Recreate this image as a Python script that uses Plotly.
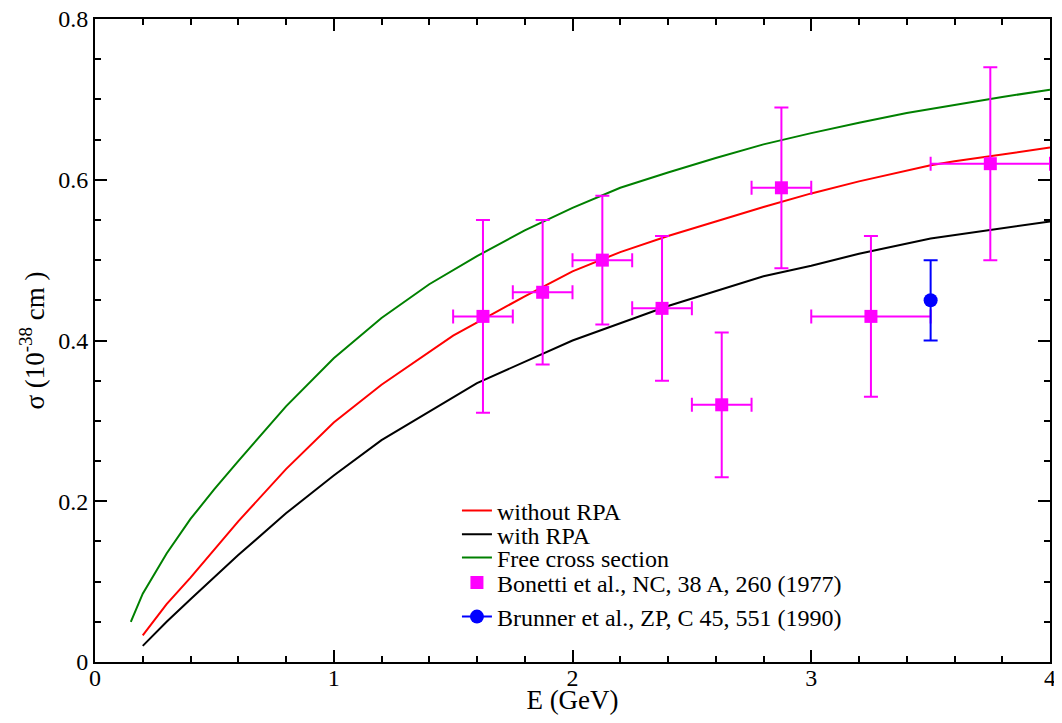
import plotly.graph_objects as go

# theory curves (E in GeV, sigma in 1e-38 cm^2)
e_free = [0.15, 0.2, 0.3, 0.4, 0.5, 0.6, 0.8, 1.0, 1.2, 1.4, 1.6, 1.8, 2.0,
          2.2, 2.4, 2.6, 2.8, 3.0, 3.2, 3.4, 3.6, 3.8, 4.0]
sigma_free = [0.05, 0.085, 0.135, 0.178, 0.215, 0.25, 0.318, 0.378, 0.428, 0.47,
              0.505, 0.537, 0.565, 0.59, 0.609, 0.627, 0.644, 0.658, 0.671, 0.683,
              0.693, 0.703, 0.712]

e_norpa = [0.2, 0.3, 0.4, 0.6, 0.8, 1.0, 1.2, 1.5, 1.8, 2.0, 2.2, 2.4, 2.6, 2.8,
           3.0, 3.2, 3.5, 3.6, 4.0]
sigma_norpa = [0.033, 0.072, 0.105, 0.175, 0.24, 0.298, 0.345, 0.406, 0.455, 0.486,
               0.51, 0.53, 0.548, 0.566, 0.583, 0.598, 0.618, 0.623, 0.64]

e_rpa = [0.2, 0.3, 0.4, 0.6, 0.8, 1.0, 1.2, 1.6, 2.0, 2.4, 2.8, 3.0, 3.2, 3.5, 4.0]
sigma_rpa = [0.02, 0.05, 0.078, 0.133, 0.185, 0.232, 0.276, 0.347, 0.40, 0.443,
             0.48, 0.493, 0.508, 0.527, 0.548]

# Bonetti et al. data
bon_e = [1.625, 1.875, 2.125, 2.375, 2.625, 2.875, 3.25, 3.75]
bon_e_err = [0.125, 0.125, 0.125, 0.125, 0.125, 0.125, 0.25, 0.25]
bon_sigma = [0.43, 0.46, 0.50, 0.44, 0.32, 0.59, 0.43, 0.62]
bon_sigma_err = [0.12, 0.09, 0.08, 0.09, 0.09, 0.10, 0.10, 0.12]

# Brunner et al. data
bru_e = [3.5]
bru_sigma = [0.45]
bru_sigma_err = [0.05]

SERIF = "Liberation Serif"
MAGENTA = "#ff00ff"

fig = go.Figure()

fig.add_trace(go.Scatter(x=e_norpa, y=sigma_norpa, mode="lines", name="without RPA",
                         line=dict(color="#ff0000", width=2), legend="legend"))
fig.add_trace(go.Scatter(x=e_rpa, y=sigma_rpa, mode="lines", name="with RPA",
                         line=dict(color="#000000", width=2), legend="legend2"))
fig.add_trace(go.Scatter(x=e_free, y=sigma_free, mode="lines", name="Free cross section",
                         line=dict(color="#008000", width=2), legend="legend3"))
fig.add_trace(go.Scatter(
    x=bon_e, y=bon_sigma, mode="markers", name="Bonetti et al., NC, 38 A, 260 (1977)",
    marker=dict(symbol="square", size=13, color=MAGENTA),
    error_x=dict(type="data", array=bon_e_err, color=MAGENTA, thickness=2, width=7),
    error_y=dict(type="data", array=bon_sigma_err, color=MAGENTA, thickness=2, width=7),
    legend="legend4",
))
fig.add_trace(go.Scatter(
    x=bru_e, y=bru_sigma, mode="lines+markers", name="Brunner et al., ZP, C 45, 551 (1990)",
    marker=dict(symbol="circle", size=14, color="#0000ff"),
    line=dict(color="#0000ff", width=2),
    error_y=dict(type="data", array=bru_sigma_err, color="#0000ff", thickness=2, width=7),
    legend="legend5",
))

axis_common = dict(
    showline=True, linecolor="black", linewidth=2, mirror="allticks",
    ticks="inside", ticklen=12, tickwidth=2, tickcolor="black",
    showgrid=False, zeroline=False, automargin=False, ticklabeloverflow="allow",
    tickfont=dict(family=SERIF, size=24, color="black"),
)

fig.update_xaxes(
    range=[0, 4], tick0=0, dtick=1, ticklabelstandoff=-7,
    minor=dict(ticks="inside", ticklen=6, tickwidth=2, tickcolor="black", dtick=0.2),
    title=dict(text="E (GeV)", font=dict(family=SERIF, size=27, color="black"), standoff=6),
    **axis_common,
)
fig.update_yaxes(
    range=[0, 0.8], tick0=0, dtick=0.2, tickformat="~g",
    minor=dict(ticks="inside", ticklen=6, tickwidth=2, tickcolor="black", dtick=0.05),
    title=dict(text="σ (10<sup>-38</sup> cm )", font=dict(family=SERIF, size=27, color="black"),
               standoff=6),
    **axis_common,
)

# one legend per row so the rows sit where the reference has them
legend_rows = {"legend": 0.235, "legend2": 0.198, "legend3": 0.162,
               "legend4": 0.123, "legend5": 0.070}
legend_style = dict(
    x=0.379, xanchor="left", yanchor="middle",
    bgcolor="rgba(0,0,0,0)", borderwidth=0,
    font=dict(family=SERIF, size=24, color="black"),
    itemwidth=30,
)

# the page body adds an 8px margin, so the figure is kept 16px smaller than the window
fig.update_layout(
    width=1046, height=707,
    margin=dict(l=87, r=4, t=11, b=53),
    paper_bgcolor="white", plot_bgcolor="white",
    font=dict(family=SERIF, color="black"),
    showlegend=True,
    **{name: dict(y=ypos, **legend_style) for name, ypos in legend_rows.items()},
)

fig.write_html("out.html")
